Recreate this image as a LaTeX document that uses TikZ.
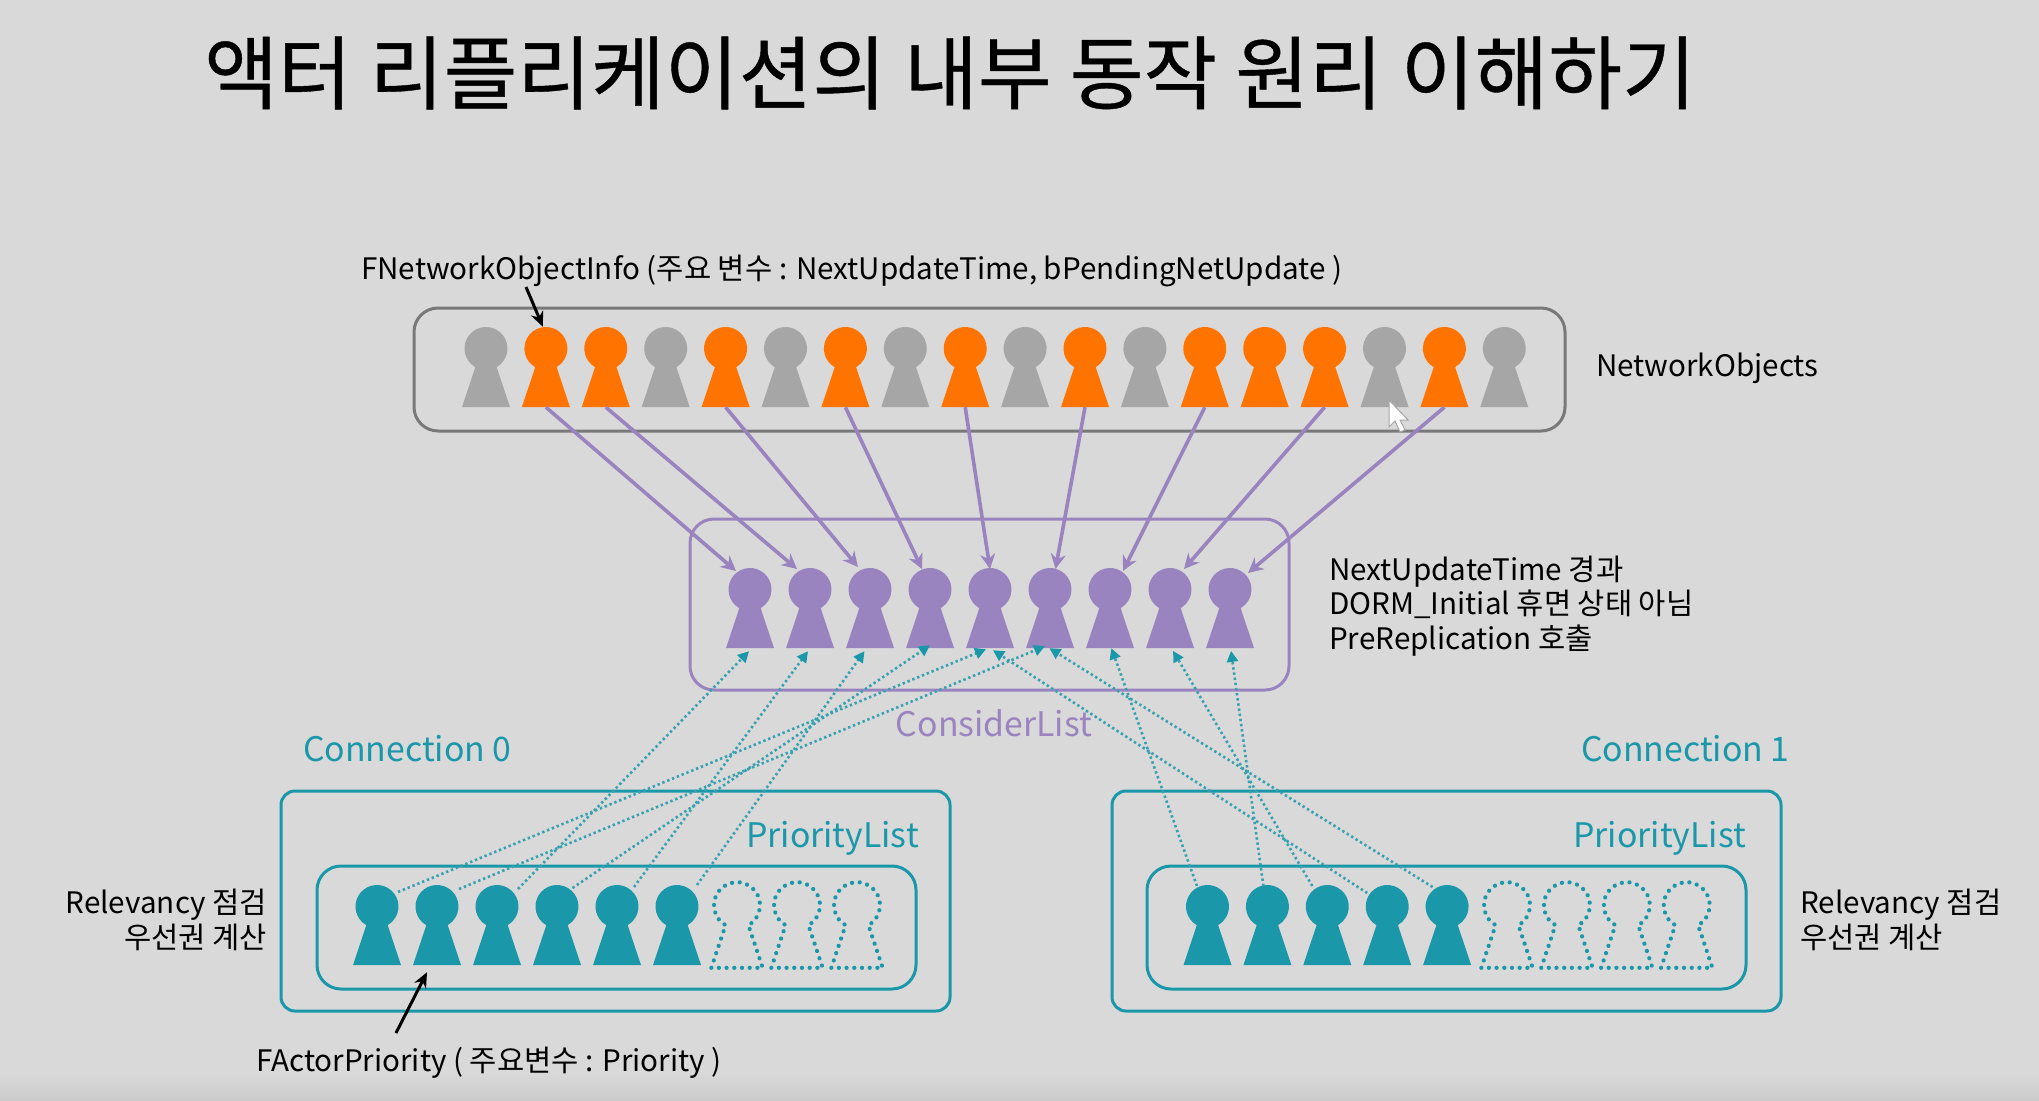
\documentclass[tikz,border=0pt]{standalone}
\usepackage{fontspec}
\setmainfont{Noto Sans CJK KR}
\newfontfamily\titlefont[FakeBold=0.5]{Noto Sans CJK KR}
\usetikzlibrary{arrows.meta}
\usetikzlibrary{positioning}
\definecolor{slidebg}{HTML}{D9D9D9}
\definecolor{pawngray}{HTML}{A6A6A6}
\definecolor{pawnorange}{HTML}{FF7300}
\definecolor{pawnpurple}{HTML}{9A84C0}
\definecolor{pawnteal}{HTML}{1A97A9}
\newcommand{\pawnoutline}{(-24,40) -- (-10.7,0.15)
    arc[start angle=119.8, end angle=420.2, x radius=21.5, y radius=21.5]
    -- (24,40) -- cycle}
\tikzset{
    pawn/.pic={
        \fill[pic actions] \pawnoutline;
    },
    emptypawn/.pic={
        \draw[draw=pawnteal, scale=1.07, line width=4.2pt, line cap=round, dash pattern=on 0.1pt off 7.6pt] \pawnoutline;
    },
}
\begin{document}
\begin{tikzpicture}[
                x=1pt, y=-1pt,
                spot/.style={inner sep=0pt, minimum width=48pt, minimum height=80pt},
                module/.style={draw, line width=3pt, rounded corners=24pt, inner sep=0pt},
                objectsbox/.style={module, draw=gray!95!black},
                considerbox/.style={module, draw=pawnpurple},
                connbox/.style={module, draw=pawnteal, rounded corners=14pt},
                listbox/.style={module, draw=pawnteal},
                label/.style={font=\fontsize{29.6}{34.5}\selectfont, inner sep=0pt, text=black},
                heading/.style={font=\fontsize{33.8}{38}\selectfont, inner sep=0pt},
                arrow/.style={-{Stealth[length=15pt,width=15pt]}, line width=3.6pt, draw=pawnpurple},
                dotarrow/.style={-{Triangle[length=11pt,width=11pt,pawnteal]}, line width=2.6pt, draw=pawnteal!85!slidebg, dash pattern=on 2.4pt off 2.8pt},
                blackarrow/.style={-{Stealth[length=15pt,width=13pt]}, line width=3pt, draw=black},
            ]

            \useasboundingbox (0,0) rectangle (2039,1100);
            \fill[slidebg] (0,0) rectangle (2039,1100);
            \shade[top color=slidebg, bottom color=black!20] (0,1072) rectangle (2039,1100);

            \node[font=\titlefont\fontsize{80.2}{86}\selectfont, anchor=west, inner sep=0pt] (title) at (204,73) {액터 리플리케이션의 내부 동작 원리 이해하기};

            % boxes
            \node[objectsbox, minimum width=1151pt, minimum height=123pt] (objects) at (989.5,369.5) {};
            \node[considerbox, minimum width=599pt, minimum height=171pt] (consider) at (989.5,604.5) {};
            \node[connbox, minimum width=669pt, minimum height=220pt] (conn0) at (615.5,901) {};
            \node[listbox, minimum width=599pt, minimum height=123pt] (list0) at (616.5,927.5) {};
            \node[connbox, minimum width=669pt, minimum height=220pt] (conn1) at (1446.5,901) {};
            \node[listbox, minimum width=599pt, minimum height=123pt] (list1) at (1446.5,927.5) {};

            % network objects
            \foreach \i/\c in {0/pawngray,1/pawnorange,2/pawnorange,3/pawngray,4/pawnorange,5/pawngray,
                               6/pawnorange,7/pawngray,8/pawnorange,9/pawngray,10/pawnorange,11/pawngray,
                               12/pawnorange,13/pawnorange,14/pawnorange,15/pawngray,16/pawnorange,17/pawngray} {
                \node[spot] (obj\i) at (486+59.9*\i,367) {};
                \pic[fill=\c] at (obj\i) {pawn};
            }

            % consider list
            \foreach \i in {0,...,8} {
                \node[spot] (cons\i) at (750+60*\i,608) {};
                \pic[fill=pawnpurple] at (cons\i) {pawn};
            }

            % priority lists
            \foreach \i in {0,...,5} {
                \node[spot] (left\i) at (377+60*\i,925) {};
                \pic[fill=pawnteal] at (left\i) {pawn};
            }
            \foreach \i in {6,7,8} {
                \node[spot] (left\i) at (377+60*\i,925) {};
                \pic at (left\i) {emptypawn};
            }
            \foreach \i in {0,...,4} {
                \node[spot] (right\i) at (1207.5+59.9*\i,925) {};
                \pic[fill=pawnteal] at (right\i) {pawn};
            }
            \foreach \i in {5,...,8} {
                \node[spot] (right\i) at (1207.5+59.9*\i,925) {};
                \pic at (right\i) {emptypawn};
            }

            % labels
            \node[label, anchor=west] (fninfo) at (361,271) {FNetworkObjectInfo (주요 변수 : NextUpdateTime, bPendingNetUpdate )};
            \node[label, anchor=west] (objname) at (1596,368) {NetworkObjects};
            \node[label, anchor=west, align=left] (considernote) at (1329,606) {NextUpdateTime 경과\\DORM\_Initial 휴면 상태 아님\\PreReplication 호출};
            \node[heading, text=pawnpurple] (considername) at (994,723) {ConsiderList};
            \node[heading, text=pawnteal, anchor=west] (conn0name) at (303,749) {Connection 0};
            \node[heading, text=pawnteal, anchor=west] (conn1name) at (1581,749) {Connection 1};
            \node[heading, text=pawnteal, anchor=east] (list0name) at (919,838) {PriorityList};
            \node[heading, text=pawnteal, anchor=east] (list1name) at (1746,838) {PriorityList};
            \node[label, anchor=east, align=right] (relev0) at (267,920) {Relevancy 점검\\우선권 계산};
            \node[label, anchor=west, align=left] (relev1) at (1800,920) {Relevancy 점검\\우선권 계산};
            \node[label, anchor=west] (fapriority) at (256,1063) {FActorPriority ( 주요변수 : Priority )};

            % arrows
            \foreach \src/\dst/\dx/\dy in {1/0/-14/-37,2/1/-13/-39,4/2/-12/-41,6/3/-8/-39,8/4/0/-39,
                                           10/5/5.5/-39,12/6/13/-37,14/7/14/-39,16/8/18/-35} {
                \draw[arrow] (obj\src.south) -- ([shift={(\dx,\dy)}]cons\dst.center);
            }
            \foreach \src/\dst/\sx/\sy/\dx/\dy in {0/4/21/-33/-4/1,1/5/22/-36/-5/-2,2/0/21/-36/-1/3,
                                                   3/3/15.5/-37/0/-3,4/1/17/-38/-2/3,5/2/20/-40/-5.5/3} {
                \draw[dotarrow] ([shift={(\sx,\sy)}]left\src.center) -- ([shift={(\dx,\dy)}]cons\dst.south);
            }
            \foreach \src/\dst/\sx/\sy/\dx/\dy in {0/6/-10.5/-39/1.4/0,1/8/-4/-39/1/2.7,2/7/-15/-39/3/2.7,
                                                   3/4/-20/-32/3/2,4/5/-14.5/-38/-0.6/0} {
                \draw[dotarrow] ([shift={(\sx,\sy)}]right\src.center) -- ([shift={(\dx,\dy)}]cons\dst.south);
            }

            \coordinate (fnstart) at (526,287);
            \coordinate (fastart) at (396,1033);
            \draw[blackarrow] (fnstart) -- ([xshift=-3pt]obj1.north);
            \draw[blackarrow] (fastart) -- ([shift={(-10,7)}]left1.south);

            % mouse pointer
            \coordinate (pointer) at (1389,400);
            \fill[white, draw=gray!70, line width=1pt] (pointer) -- ++(0,27) -- ++(6,-6) -- ++(5,11) -- ++(5,-2) -- ++(-5,-10) -- ++(8,0) -- cycle;
        \end{tikzpicture}
\end{document}
